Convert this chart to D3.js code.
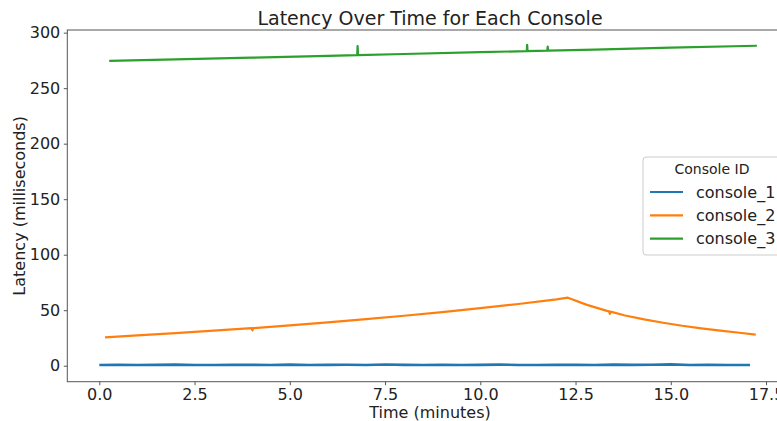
<!DOCTYPE html>
<html>
<head>
<meta charset="utf-8">
<script src="https://cdn.jsdelivr.net/npm/d3@7"></script>
<style>
  body { margin: 0; background: #fff; }
  svg { display: block; font-family: "DejaVu Sans", sans-serif; }
</style>
</head>
<body>
<svg id="chart" width="777" height="421"></svg>
<script>
// series data (minutes, milliseconds)
var consoleIds = ["console_1", "console_2", "console_3"];
var seriesColors = ["#1f77b4", "#ff7f0e", "#2ca02c"];

var time1 = [0, 0.5, 1, 1.5, 2, 2.5, 3, 3.5, 4, 4.5, 5, 5.5, 6, 6.5, 7, 7.5, 8, 8.5,
  9, 9.5, 10, 10.5, 11, 11.5, 12, 12.5, 13, 13.5, 14, 14.5, 15, 15.5, 16, 16.5, 17, 17.08];
var latency1 = [0.7, 0.9, 0.6, 0.8, 1.0, 0.7, 0.6, 0.9, 0.8, 0.7, 1.0, 0.6, 0.8, 0.9, 0.7, 1.1, 0.8, 0.6,
  0.9, 0.7, 0.8, 1.0, 0.7, 0.6, 0.9, 0.8, 0.7, 1.0, 0.8, 0.9, 1.2, 0.7, 0.8, 0.6, 0.7, 0.7];

var time2 = [0.15, 1, 2, 3, 4, 4.02, 4.04, 5, 6, 7, 8, 9, 10, 11, 12, 12.3, 12.8, 13.3, 13.38, 13.4, 13.42,
  13.8, 14.3, 14.8, 15.3, 15.8, 16.3, 16.8, 17.23];
var latency2 = [25.6, 27.4, 29.4, 31.6, 33.8, 31.8, 33.9, 36.3, 39.0, 41.9, 45.0, 48.3, 51.8, 55.6, 59.7, 61.3, 54.8, 49.6, 48.9, 46.6, 48.7,
  45.2, 41.7, 38.7, 36.0, 33.7, 31.6, 29.7, 28.0];

var time3 = [0.26, 2, 4, 6, 6.77, 6.78, 6.79, 8, 10, 11.22, 11.23, 11.24, 11.76, 11.77, 11.78, 13, 15, 17.26];
var latency3 = [274.5, 275.9, 277.5, 279.1, 279.8, 288, 279.8, 280.8, 282.4, 283.4, 289, 283.4, 283.8, 287.4, 283.8, 284.8, 286.5, 288.2];

var xTicks = [0, 2.5, 5, 7.5, 10, 12.5, 15, 17.5];
var yTicks = [0, 50, 100, 150, 200, 250, 300];

var series = [
  { id: consoleIds[0], t: time1, v: latency1 },
  { id: consoleIds[1], t: time2, v: latency2 },
  { id: consoleIds[2], t: time3, v: latency3 }
];

var svg = d3.select("#chart");
// plot box (right edge falls outside the picture, as in the reference)
var plotLeft = 67.3, plotRight = 792.7, plotTop = 30, plotBottom = 381.7;

var x = d3.scaleLinear().domain([-0.84, 18.2]).range([plotLeft, plotRight]);
var y = d3.scaleLinear().domain([-14.4, 302.4]).range([plotBottom, plotTop]);

// lines
var line = d3.line()
  .x(function(d) { return x(d[0]); })
  .y(function(d) { return y(d[1]); });

series.forEach(function(s, i) {
  var pts = s.t.map(function(t, j) { return [t, s.v[j]]; });
  svg.append("path")
    .datum(pts)
    .attr("d", line)
    .attr("fill", "none")
    .attr("stroke", seriesColors[i])
    .attr("stroke-width", i == 0 ? 2.6 : 2.2)
    .attr("stroke-linejoin", "round");
});

// frame
svg.append("rect")
  .attr("x", plotLeft).attr("y", plotTop)
  .attr("width", plotRight - plotLeft).attr("height", plotBottom - plotTop)
  .attr("fill", "none")
  .attr("stroke", "#555")
  .attr("stroke-width", 1);

// axes
var xAxis = svg.append("g")
  .attr("transform", "translate(0," + plotBottom + ")")
  .call(d3.axisBottom(x).tickValues(xTicks).tickFormat(d3.format(".1f")).tickSize(3.5).tickPadding(3.5));
var yAxis = svg.append("g")
  .attr("transform", "translate(" + plotLeft + ",0)")
  .call(d3.axisLeft(y).tickValues(yTicks).tickSize(3.5).tickPadding(3.5));

[xAxis, yAxis].forEach(function(g) {
  g.select(".domain").remove();
  g.selectAll(".tick line").attr("stroke", "#555");
  g.selectAll(".tick text")
    .attr("fill", "#222")
    .style("font-size", "16px")
    .style("font-family", "DejaVu Sans, sans-serif");
});

// titles
svg.append("text")
  .attr("x", (plotLeft + plotRight) / 2).attr("y", 25)
  .attr("text-anchor", "middle")
  .attr("fill", "#222")
  .style("font-size", "19px")
  .text("Latency Over Time for Each Console");

svg.append("text")
  .attr("x", (plotLeft + plotRight) / 2).attr("y", 418)
  .attr("text-anchor", "middle")
  .attr("fill", "#222")
  .style("font-size", "16px")
  .text("Time (minutes)");

svg.append("text")
  .attr("transform", "translate(25," + (plotTop + plotBottom) / 2 + ") rotate(-90)")
  .attr("text-anchor", "middle")
  .attr("fill", "#222")
  .style("font-size", "16px")
  .text("Latency (milliseconds)");

// legend
var legend = svg.append("g").attr("transform", "translate(643,157)");
legend.append("rect")
  .attr("width", 138).attr("height", 98)
  .attr("rx", 3)
  .attr("fill", "#fff").attr("fill-opacity", 0.8)
  .attr("stroke", "#ccc");
legend.append("text")
  .attr("x", 69).attr("y", 17)
  .attr("text-anchor", "middle")
  .attr("fill", "#222")
  .style("font-size", "14px")
  .text("Console ID");
consoleIds.forEach(function(id, i) {
  var row = legend.append("g").attr("transform", "translate(0," + (35 + i * 23.3) + ")");
  row.append("line")
    .attr("x1", 7).attr("x2", 40)
    .attr("stroke", seriesColors[i]).attr("stroke-width", 2.2);
  row.append("text")
    .attr("x", 53).attr("y", 5.5)
    .attr("fill", "#222")
    .style("font-size", "16px")
    .text(id);
});
</script>
</body>
</html>
